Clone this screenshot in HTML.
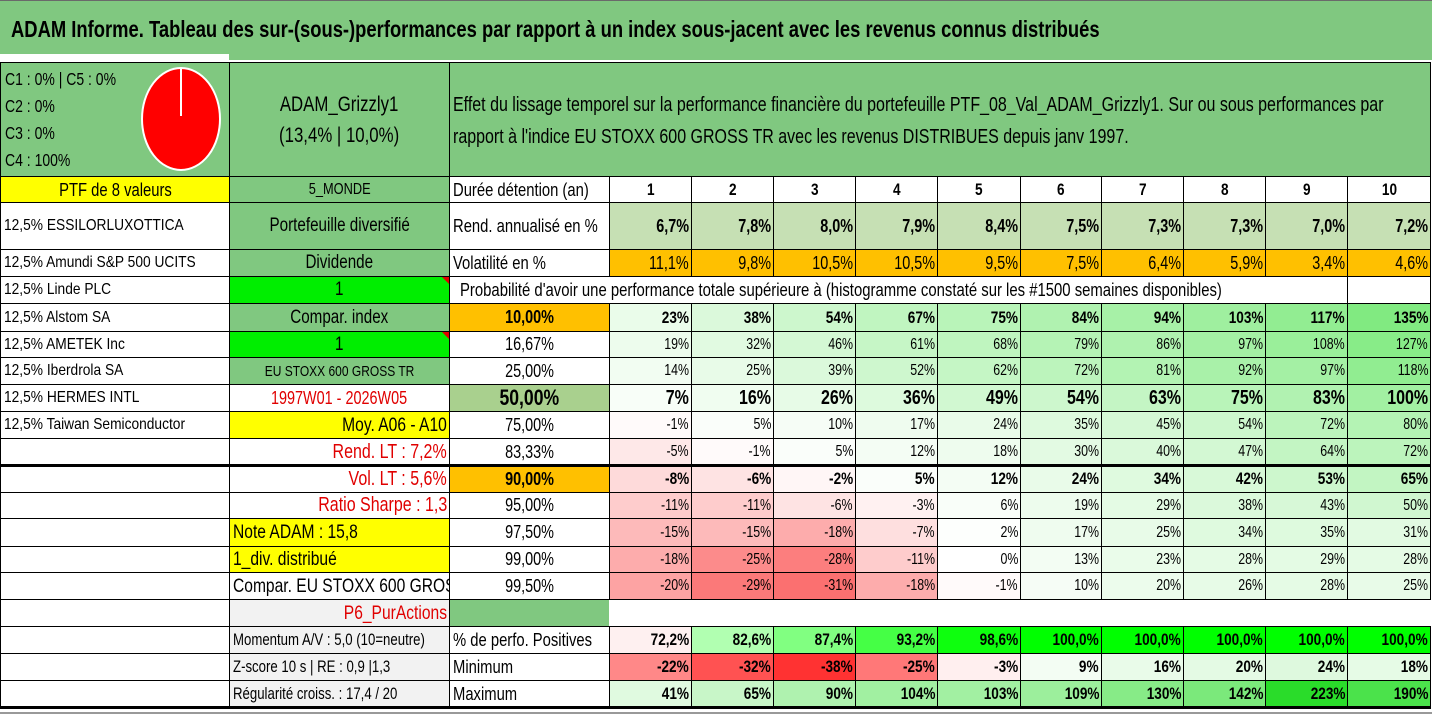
<!DOCTYPE html>
<html><head><meta charset="utf-8">
<style>
html,body{margin:0;padding:0;background:#fff;}
#root{position:relative;width:1432px;height:717px;overflow:hidden;font-family:"Liberation Sans",sans-serif;color:#000;}
.c{position:absolute;box-sizing:border-box;border:1px solid #000;overflow:hidden;white-space:nowrap;display:flex;align-items:center;}
.c span{display:inline-block;transform:scaleX(0.8);}
.L{justify-content:flex-start;padding-left:3px}.L span{transform-origin:left center}
.R{justify-content:flex-end;padding-right:2px}.R span{transform-origin:right center}
.C{justify-content:center}.C span{transform-origin:center center}
</style></head><body>
<div id="root">
<div style="position:absolute;left:0;top:0;width:1432px;height:60px;background:#80c880;border-top:1px solid #6a6a6a;box-sizing:border-box"></div>
<div style="position:absolute;left:0;top:54px;width:229px;height:8px;background:#fff"></div>
<div style="position:absolute;left:11px;top:16px;font-size:23px;font-weight:bold;white-space:nowrap;transform:scaleX(0.8);transform-origin:left center">ADAM Informe. Tableau des sur-(sous-)performances par rapport à un index sous-jacent avec les revenus connus distribués</div>
</div>
<script>
const periods=["1","2","3","4","5","6","7","8","9","10"];
const rendAnnual=["6,7%","7,8%","8,0%","7,9%","8,4%","7,5%","7,3%","7,3%","7,0%","7,2%"];
const volatility=["11,1%","9,8%","10,5%","10,5%","9,5%","7,5%","6,4%","5,9%","3,4%","4,6%"];
const probLevels=["10,00%","16,67%","25,00%","50,00%","75,00%","83,33%","90,00%","95,00%","97,50%","99,00%","99,50%"];
const p10=[23,38,54,67,75,84,94,103,117,135];
const p16=[19,32,46,61,68,79,86,97,108,127];
const p25=[14,25,39,52,62,72,81,92,97,118];
const p50=[7,16,26,36,49,54,63,75,83,100];
const p75=[-1,5,10,17,24,35,45,54,72,80];
const p83=[-5,-1,5,12,18,30,40,47,64,72];
const p90=[-8,-6,-2,5,12,24,34,42,53,65];
const p95=[-11,-11,-6,-3,6,19,29,38,43,50];
const p97=[-15,-15,-18,-7,2,17,25,34,35,31];
const p99=[-18,-25,-28,-11,0,13,23,28,29,28];
const p995=[-20,-29,-31,-18,-1,10,20,26,28,25];
const positives=[72.2,82.6,87.4,93.2,98.6,100,100,100,100,100];
const minimum=[-22,-32,-38,-25,-3,9,16,20,24,18];
const maximum=[41,65,90,104,103,109,130,142,223,190];
const holdings=["12,5% ESSILORLUXOTTICA","12,5% Amundi S&P 500 UCITS","12,5% Linde PLC","12,5% Alstom SA","12,5% AMETEK Inc","12,5% Iberdrola SA","12,5% HERMES INTL","12,5% Taiwan Semiconductor"];

const X=[0,229,449,609,691,773,855,937,1020,1101,1183,1265,1347,1430];
const Y=[62,176,202,249,276,303,331,357,384,411,438,465,492,518,546,572,599,626,653,680,707];
const root=document.getElementById('root');
function cell(c0,c1,r0,r1,txt,align,bg,opt){
  opt=opt||{};
  const d=document.createElement('div');
  d.className='c '+(align||'C');
  d.style.left=X[c0]+'px';d.style.top=Y[r0]+'px';
  d.style.width=(X[c1]-X[c0]+1)+'px';d.style.height=(Y[r1]-Y[r0]+1)+'px';
  d.style.background=bg||'#fff';
  d.style.fontSize=(opt.fs||14)+'px';
  if(opt.bold)d.style.fontWeight='bold';
  if(opt.color)d.style.color=opt.color;
  if(opt.noborder)d.style.border='none';
  if(txt!==''&&txt!=null){const s=document.createElement('span');s.textContent=txt;if(opt.sx)s.style.transform='scaleX('+opt.sx+')';d.appendChild(s);}
  root.appendChild(d);
  return d;
}
function mix(a,b,t){t=Math.max(0,Math.min(1,t));return 'rgb('+a.map((v,i)=>Math.round(v+(b[i]-v)*t)).join(',')+')';}
const W=[255,255,255];
function heat(v){return v<0?mix(W,[250,70,70],v/-40):mix(W,[40,220,40],v/230);}
function heatPos(v){return v<75?mix(W,[250,200,200],(75-v)/10):mix(W,[0,255,0],(v-75)/25);}
const GREEN='#80c880';

let e;
e=cell(0,1,0,1,'','L',GREEN);


e.innerHTML='<div style="position:absolute;left:4px;top:3px;font-size:17.5px;line-height:27px;transform:scaleX(0.8);transform-origin:left top;white-space:nowrap">C1 : 0% | C5 : 0%<br>C2 : 0%<br>C3 : 0%<br>C4 : 100%</div><svg style="position:absolute;left:135px;top:1px" width="90" height="112"><ellipse cx="45" cy="55" rx="39" ry="51" fill="#ff0000" stroke="#fff" stroke-width="2"/><line x1="45" y1="5" x2="45" y2="52" stroke="#fff" stroke-width="2"/></svg>';
e=cell(1,2,0,1,'','C',GREEN);


e.innerHTML='<div style="text-align:center;font-size:21px;line-height:31px;transform:scaleX(0.8);white-space:nowrap">ADAM_Grizzly1<br>(13,4% | 10,0%)</div>';
e=cell(2,13,0,1,'','L',GREEN);


e.innerHTML='<div style="position:absolute;left:3px;top:26px;font-size:20px;line-height:32px;white-space:nowrap;transform:scaleX(0.8);transform-origin:left top">Effet du lissage temporel sur la performance financière du portefeuille PTF_08_Val_ADAM_Grizzly1. Sur ou sous performances par<br>rapport à l\'indice EU STOXX 600 GROSS TR avec les revenus DISTRIBUES depuis janv 1997.</div>';

e=cell(0,1,1,2,'PTF de 8 valeurs','C','#ffff00',{fs:18.5});


for(let i=0;i<8;i++){
  e=cell(0,1,2+i,3+i,holdings[i],'L','#fff',{fs:16,sx:0.86});
  
  
}
for(let r=10;r<20;r++){
  e=cell(0,1,r,r+1,'','L','#fff');
  
  
}
const bDefs=[
 [1,'5_MONDE','C',GREEN,{fs:16}],
 [2,'Portefeuille diversifié','C',GREEN,{fs:19}],
 [3,'Dividende','C',GREEN,{fs:19}],
 [4,'1','C','#00ee00',{fs:19}],
 [5,'Compar. index','C',GREEN,{fs:19}],
 [6,'1','C','#00ee00',{fs:19}],
 [7,'EU STOXX 600 GROSS TR','C',GREEN,{fs:15}],
 [8,'1997W01 - 2026W05','C','#fff',{fs:18,color:'#e00000'}],
 [9,'Moy. A06 - A10','R','#ffff00',{fs:19.5}],
 [10,'Rend. LT : 7,2%','R','#fff',{fs:20,color:'#e00000'}],
 [11,'Vol. LT : 5,6%','R','#fff',{fs:20,color:'#e00000'}],
 [12,'Ratio Sharpe : 1,3','R','#fff',{fs:20,color:'#e00000'}],
 [13,'Note ADAM : 15,8','L','#ffff00',{fs:19.5}],
 [14,'1_div. distribué','L','#ffff00',{fs:19.5}],
 [15,'Compar. EU STOXX 600 GROSS TR','L','#fff',{fs:19.5}],
 [16,'P6_PurActions','R','#f2f2f2',{fs:19.5,color:'#e00000'}],
 [17,'Momentum A/V : 5,0 (10=neutre)','L','#f2f2f2',{fs:16.5}],
 [18,'Z-score 10 s | RE : 0,9 |1,3','L','#f2f2f2',{fs:16.5}],
 [19,'Régularité croiss. : 17,4 / 20','L','#f2f2f2',{fs:16.5}]];
bDefs.forEach(d=>{
  e=cell(1,2,d[0],d[0]+1,d[1],d[2],d[3],d[4]);
  
  
  if(d[0]===4||d[0]===6){const t=document.createElement('div');t.style.cssText='position:absolute;right:0;top:0;width:0;height:0;border-top:7px solid #e00000;border-left:7px solid transparent';e.appendChild(t);}
});
[[1,'Durée détention (an)'],[2,'Rend. annualisé en %'],[3,'Volatilité en %'],[17,'% de perfo. Positives'],[18,'Minimum'],[19,'Maximum']].forEach(d=>{
  e=cell(2,3,d[0],d[0]+1,d[1],'L','#fff',{fs:18.5});
  
  
});
e=cell(2,12,4,5,"Probabilité d'avoir une performance totale supérieure à (histogramme constaté sur les #1500 semaines disponibles)",'L','#fff',{fs:18.6,sx:0.8});


e.style.paddingLeft='10px';
e=cell(12,13,4,5,'','C','#fff');


e=cell(2,3,16,17,'','C',GREEN);


e=cell(3,13,16,17,'','C','#fff',{noborder:true});



for(let i=0;i<10;i++){
  e=cell(3+i,4+i,1,2,periods[i],'C','#fff',{fs:17,bold:true});
  
  
  e=cell(3+i,4+i,2,3,rendAnnual[i],'R','#c6e0b4',{fs:18,bold:true});
  
  
  e=cell(3+i,4+i,3,4,volatility[i],'R','#ffc000',{fs:18});
  
  
}
const probRows=[p10,p16,p25,p50,p75,p83,p90,p95,p97,p99,p995];
probRows.forEach((arr,k)=>{
  const r=5+k;
  const bold=(k===0||k===3||k===6);
  let bg='#fff';
  if(k===0||k===6)bg='#ffc000';
  if(k===3)bg='#a9d08e';
  e=cell(2,3,r,r+1,probLevels[k],'C',bg,{fs:k===3?22:18,bold:bold});
  
  
  for(let i=0;i<10;i++){
    e=cell(3+i,4+i,r,r+1,arr[i]+'%','R',heat(arr[i]),{fs:k===3?20:(bold?17:15.5),bold:bold});
    
    
  }
});
for(let i=0;i<10;i++){
  e=cell(3+i,4+i,17,18,positives[i].toFixed(1).replace('.',',')+'%','R',heatPos(positives[i]),{fs:17,bold:true});
  
  
  e=cell(3+i,4+i,18,19,minimum[i]+'%','R',minimum[i]<0?mix(W,[255,50,50],minimum[i]/-38):mix(W,[200,245,200],minimum[i]/40),{fs:17,bold:true});
  
  
  e=cell(3+i,4+i,19,20,maximum[i]+'%','R',mix([225,250,225],[40,220,40],(maximum[i]-40)/185),{fs:17,bold:true});
  
  
}
[[465,3],[707,3]].forEach(l=>{
  const d=document.createElement('div');
  d.style.cssText='position:absolute;left:0;top:'+(l[0]-1)+'px;width:1431px;height:'+l[1]+'px;background:#000';
  
  
  root.appendChild(d);
});
const g=document.createElement('div');
g.style.cssText='position:absolute;left:0;top:712px;width:1432px;height:2px;background:#999';


root.appendChild(g);
</script>
</body></html>
